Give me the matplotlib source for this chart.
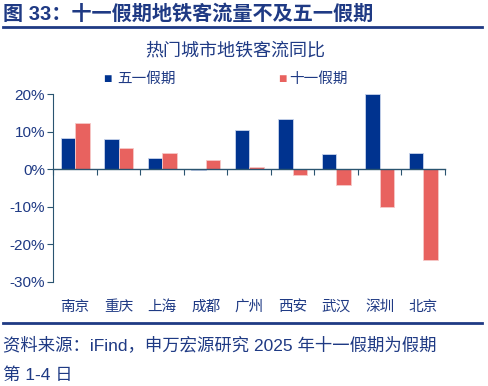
import numpy as np
import matplotlib.pyplot as plt

plt.rcParams['font.family'] = ['Liberation Sans', 'Noto Sans CJK SC', 'DejaVu Sans']

cities = ["南京", "重庆", "上海", "成都", "广州", "西安", "武汉", "深圳", "北京"]
may_day = [8.3, 8.0, 3.1, -0.2, 10.4, 13.4, 4.1, 20.1, 4.4]
national_day = [12.5, 5.8, 4.3, 2.4, 0.7, -1.4, -4.2, -10.0, -24.3]

navy = "#1F3A84"
blue = "#00338F"
red = "#E8625F"
axis_col = "#2A5470"

fig = plt.figure(figsize=(4.89, 3.86), dpi=100)
ax = fig.add_axes([0.109, 0.2702, 0.801, 0.485])

x = np.arange(len(cities))
w = 1 / 3
ax.bar(x - w / 2, may_day, w, color=blue, edgecolor="#C8D4EC", linewidth=0.6, label="五一假期")
ax.bar(x + w / 2, national_day, w, color=red, edgecolor="#F6C9C8", linewidth=0.6, label="十一假期")

ax.set_xlim(-0.5, len(cities) - 0.5)
ax.set_ylim(-30, 20)
ax.set_yticks([20, 10, 0, -10, -20, -30])
ax.set_yticklabels([f"{v}%" for v in [20, 10, 0, -10, -20, -30]], color=navy, fontsize=11)
ax.tick_params(axis="y", length=4, color=axis_col, width=0.8, pad=2)

for s in ["top", "right"]:
    ax.spines[s].set_visible(False)
ax.spines["left"].set_color(axis_col)
ax.spines["left"].set_linewidth(0.8)
ax.spines["bottom"].set_position(("data", 0))
ax.spines["bottom"].set_color(axis_col)
ax.spines["bottom"].set_linewidth(1.0)

ax.set_xticks(np.arange(len(cities) + 1) - 0.5, minor=False)
ax.set_xticklabels([])
ax.tick_params(axis="x", length=4, color=axis_col, width=0.8, direction="out")
for i, c in enumerate(cities):
    ax.text(i, -36.7, c, ha="center", va="center", color=navy, fontsize=10.5)

# legend
ly = 1 - 79 / 386
fig.text(0.220, ly, "■", color=blue, fontsize=10, va="center", ha="center")
fig.text(0.239, ly, "五一假期", color=navy, fontsize=10.5, va="center")
fig.text(0.577, ly, "■", color=red, fontsize=10, va="center", ha="center")
fig.text(0.591, ly, "十一假期", color=navy, fontsize=10.5, va="center")

fig.text(0.481, 1 - 51 / 386, "热门城市地铁客流同比", color=navy, fontsize=13, ha="center", va="center")

fig.text(0.006, 1 - 14 / 386, "图 33：十一假期地铁客流量不及五一假期", color=navy,
         fontsize=14.5, fontweight="bold", va="center")
fig.add_artist(plt.Line2D([0.006, 0.986], [1 - 26.5 / 386] * 2, color=navy, linewidth=2))
fig.add_artist(plt.Line2D([0.006, 0.986], [1 - 323 / 386] * 2, color=navy, linewidth=2))

fig.text(0.006, 1 - 345 / 386, "资料来源：iFind，申万宏源研究 2025 年十一假期为假期", color=navy,
         fontsize=12.5, va="center")
fig.text(0.006, 1 - 375 / 386, "第 1-4 日", color=navy, fontsize=12.5, va="center")

fig.savefig("out.png", dpi=100)
